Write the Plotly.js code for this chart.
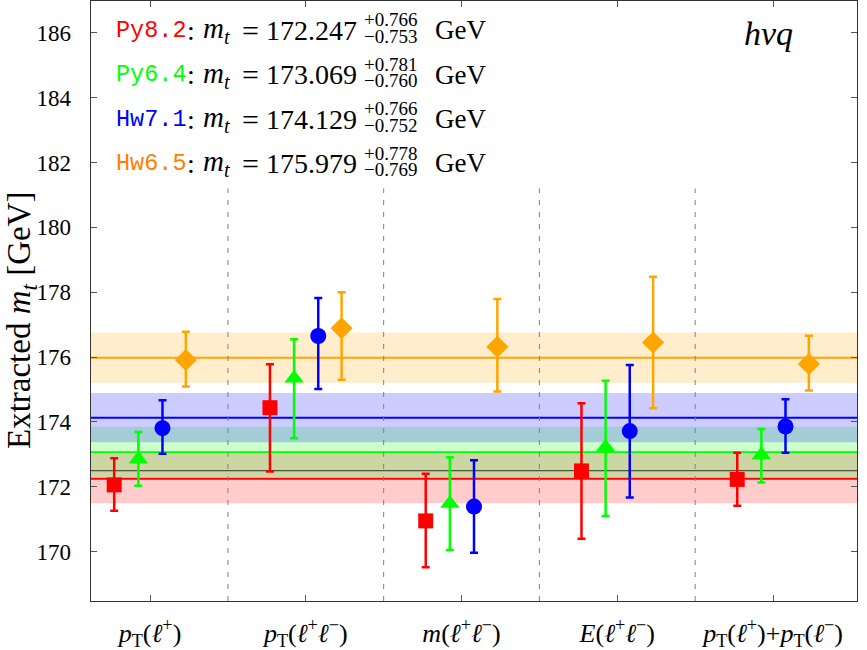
<!DOCTYPE html>
<html>
<head>
<meta charset="utf-8">
<script src="https://cdn.plot.ly/plotly-3.0.1.min.js"></script>
<style>html,body{margin:0;padding:0;background:#fff;}#chart{width:867px;height:650px;}</style>
</head>
<body>
<div id="chart"></div>
<script>
// ---- data ----
const categories = [
  '<i>p</i><sub>T</sub>(<i>ℓ</i><sup>+</sup>)',
  '<i>p</i><sub>T</sub>(<i>ℓ</i><sup>+</sup><i>ℓ</i><sup>−</sup>)',
  '<i>m</i>(<i>ℓ</i><sup>+</sup><i>ℓ</i><sup>−</sup>)',
  '<i>E</i>(<i>ℓ</i><sup>+</sup><i>ℓ</i><sup>−</sup>)',
  '<i>p</i><sub>T</sub>(<i>ℓ</i><sup>+</sup>)+<i>p</i><sub>T</sub>(<i>ℓ</i><sup>−</sup>)'
];
const seriesNames = ['Py8.2', 'Py6.4', 'Hw7.1', 'Hw6.5'];

const py82 = [172.06, 174.44, 170.95, 172.49, 172.23];
const py82Up = [0.82, 1.34, 1.45, 2.09, 0.82];
const py82Down = [0.80, 1.97, 1.43, 2.09, 0.81];

const py64 = [172.85, 175.35, 171.49, 173.22, 172.98];
const py64Up = [0.84, 1.20, 1.42, 2.05, 0.80];
const py64Down = [0.82, 1.85, 1.44, 2.12, 0.85];

const hw71 = [173.81, 176.65, 171.39, 173.72, 173.86];
const hw71Up = [0.86, 1.17, 1.43, 2.04, 0.84];
const hw71Down = [0.79, 1.63, 1.42, 2.05, 0.81];

const hw65 = [175.91, 176.89, 176.32, 176.45, 175.79];
const hw65Up = [0.87, 1.11, 1.47, 2.03, 0.87];
const hw65Down = [0.82, 1.59, 1.38, 2.03, 0.82];

// combined fits
const fitMass = [172.247, 173.069, 174.129, 175.979];
const fitUp = [0.766, 0.781, 0.766, 0.778];
const fitDown = [0.753, 0.760, 0.752, 0.769];
const fitLabels = ['172.247', '173.069', '174.129', '175.979'];
const fitUpLabels = ['+0.766', '+0.781', '+0.766', '+0.778'];
const fitDownLabels = ['−0.753', '−0.760', '−0.752', '−0.769'];
const refMass = 172.5;
const sampleLabel = 'hvq';

// ---- styles ----
const colors = ['#ff0000', '#00ff00', '#0000ff', '#ffa500'];
const textColors = ['#ff0000', '#00ff00', '#0000ff', '#ff8000'];
const bandColors = ['rgba(255,0,0,0.2)', 'rgba(0,255,0,0.2)', 'rgba(0,0,255,0.2)', 'rgba(255,165,0,0.2)'];
const symbols = ['square', 'triangle-up', 'circle', 'diamond'];
const sizes = [15, 17, 16, 17];
const offsets = [-0.23, -0.075, 0.08, 0.23];
const values = [py82, py64, hw71, hw65];
const ups = [py82Up, py64Up, hw71Up, hw65Up];
const downs = [py82Down, py64Down, hw71Down, hw65Down];

const yMin = 168.48, yMax = 186.98;
const xMin = -0.379, xMax = 4.539;
const sepTop = 181.2;

const L = 91, R = 10, T = 1, B = 49, W = 867, H = 650;
const pw = W - L - R, ph = H - T - B;
const px = x => (x - L) / pw;
const py = y => 1 - (y - T) / ph;

const serif = 'Liberation Serif, Times New Roman, serif';
const mono = 'Liberation Mono, DejaVu Sans Mono, monospace';

const traces = values.map((vals, s) => ({
  type: 'scatter',
  mode: 'markers',
  name: seriesNames[s],
  x: vals.map((v, i) => i + offsets[s]),
  y: vals,
  marker: {symbol: symbols[s], size: sizes[s], color: colors[s], line: {width: 0}},
  error_y: {type: 'data', symmetric: false, array: ups[s], arrayminus: downs[s],
            color: colors[s], thickness: 2.5, width: 4},
  showlegend: false,
  cliponaxis: false
}));

const shapes = [];
fitMass.forEach((m, s) => {
  shapes.push({type: 'rect', xref: 'paper', yref: 'y', x0: 0, x1: 1,
    y0: m - fitDown[s], y1: m + fitUp[s], fillcolor: bandColors[s], line: {width: 0}, layer: 'below'});
});
shapes.push({type: 'line', xref: 'paper', yref: 'y', x0: 0, x1: 1, y0: refMass, y1: refMass,
  line: {color: 'rgba(40,40,30,0.75)', width: 1.2}, layer: 'below'});
fitMass.forEach((m, s) => {
  shapes.push({type: 'line', xref: 'paper', yref: 'y', x0: 0, x1: 1, y0: m, y1: m,
    line: {color: colors[s], width: 2}, layer: 'below'});
});
for (let i = 0; i < categories.length - 1; i++) {
  shapes.push({type: 'line', xref: 'x', yref: 'y', x0: i + 0.5, x1: i + 0.5, y0: yMin, y1: sepTop,
    line: {color: '#808080', width: 1, dash: '5px,7px'}, layer: 'below'});
}

const annotations = [];
const baselines = [39, 83.5, 128, 172.5];
function addText(x, y, anchor, text, family, size, color) {
  annotations.push({xref: 'paper', yref: 'paper', x: px(x), y: py(y), xanchor: anchor, yanchor: 'middle',
    text: text, showarrow: false, font: {family: family, size: size, color: color}});
}
seriesNames.forEach((n, s) => {
  const bl = baselines[s];
  const c = bl - 9;
  addText(114, c, 'left', n, mono, 23.5, textColors[s]);
  addText(185, c, 'left', ':', serif, 28, '#000');
  addText(201, c, 'left', '<i>m</i><sub><i>t</i></sub>', serif, 29, '#000');
  addText(250, c, 'center', '=', serif, 30, '#000');
  addText(359, c, 'right', fitLabels[s], serif, 28, '#000');
  addText(362, bl - 19, 'left', fitUpLabels[s], serif, 19, '#000');
  addText(362, bl - 3, 'left', fitDownLabels[s], serif, 19, '#000');
  addText(433, c, 'left', 'GeV', serif, 27, '#000');
});
annotations.push({xref: 'paper', yref: 'paper', x: px(768), y: py(33), xanchor: 'center', yanchor: 'middle',
  text: '<i>' + sampleLabel + '</i>', showarrow: false, font: {family: serif, size: 34, color: '#000'}});
annotations.push({xref: 'paper', yref: 'paper', x: px(21), y: py(320), xanchor: 'center', yanchor: 'middle',
  textangle: -90, text: 'Extracted <i>m</i><sub><i>t</i></sub> [GeV]', showarrow: false,
  font: {family: serif, size: 33, color: '#000'}});

const layout = {
  width: W, height: H,
  margin: {l: L, r: R, t: T, b: B, pad: 0},
  paper_bgcolor: '#fff', plot_bgcolor: '#fff',
  showlegend: false,
  font: {family: serif, color: '#000'},
  xaxis: {
    range: [xMin, xMax], tickmode: 'array', tickvals: categories.map((c, i) => i), ticktext: categories,
    ticks: 'inside', ticklen: 6, tickcolor: '#555', tickwidth: 1,
    showline: true, linecolor: '#333', linewidth: 1.3, mirror: 'ticks',
    showgrid: false, zeroline: false, ticklabelstandoff: 8,
    tickfont: {family: serif, size: 26, color: '#000'}
  },
  yaxis: {
    range: [yMin, yMax], tickmode: 'array', tickvals: [170, 172, 174, 176, 178, 180, 182, 184, 186],
    ticks: 'inside', ticklen: 6, tickcolor: '#555', tickwidth: 1,
    showline: true, linecolor: '#333', linewidth: 1.3, mirror: 'ticks',
    showgrid: false, zeroline: false, ticklabelstandoff: 14,
    tickfont: {family: serif, size: 23, color: '#000'}
  },
  shapes: shapes,
  annotations: annotations
};

Plotly.newPlot('chart', traces, layout, {displayModeBar: false, staticPlot: true});
</script>
</body>
</html>
